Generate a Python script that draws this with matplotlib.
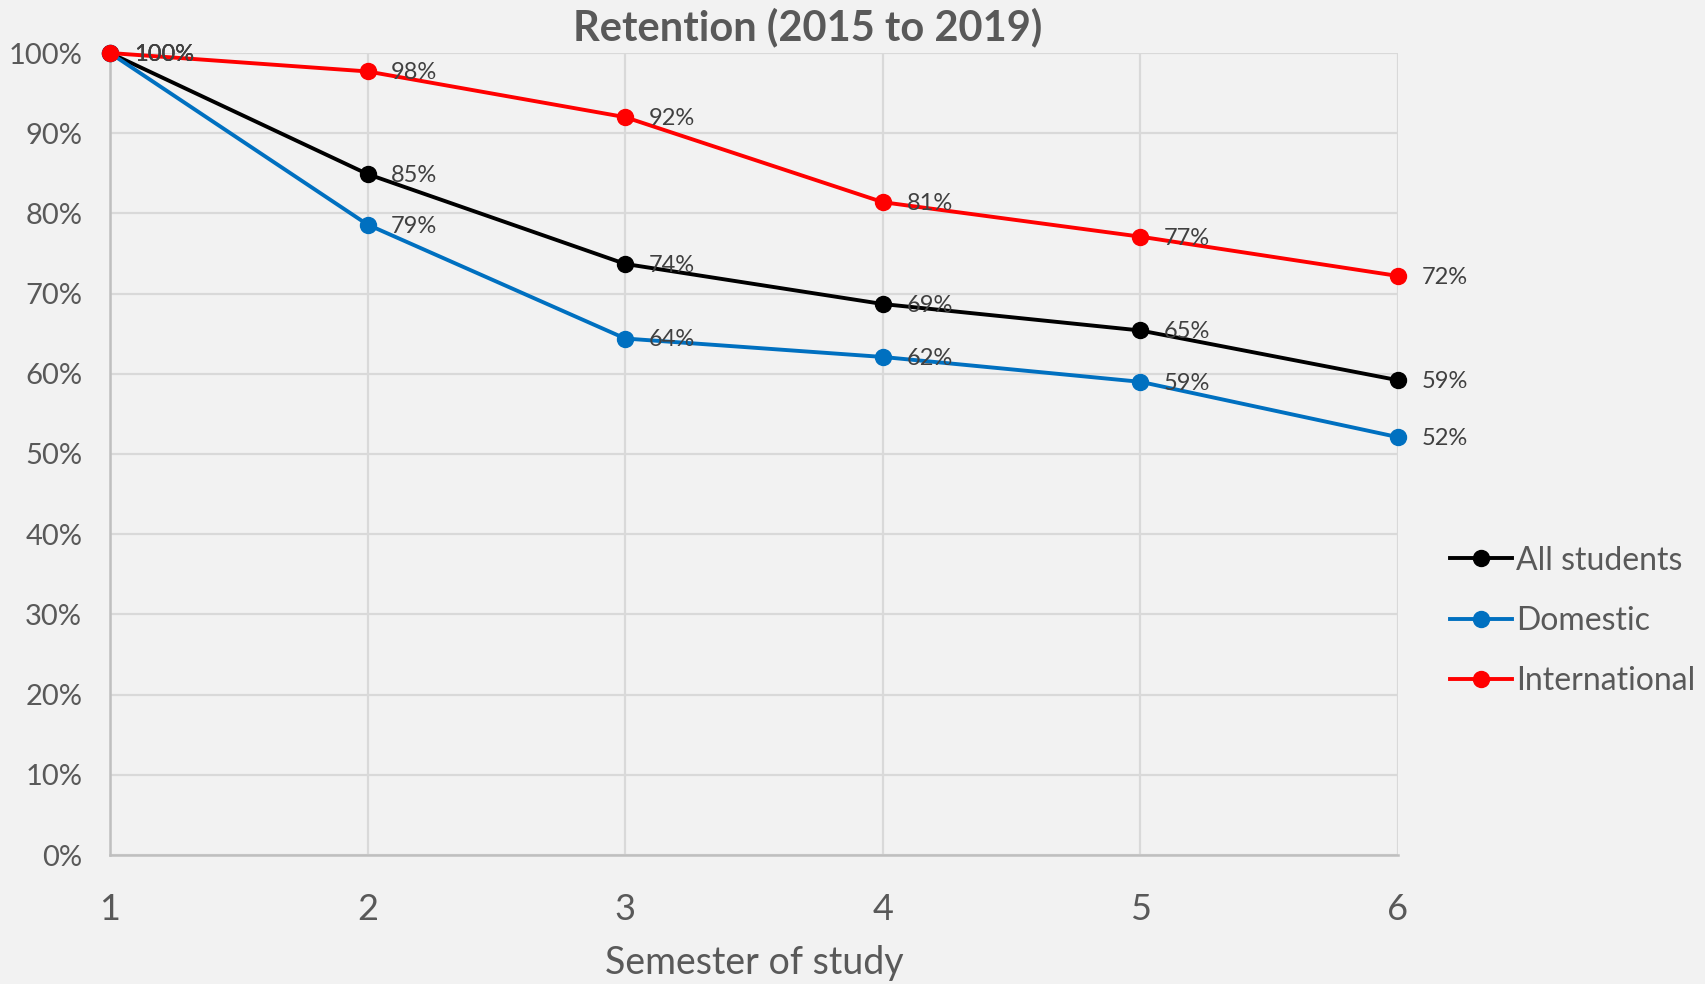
import matplotlib
matplotlib.use("Agg")
import matplotlib.pyplot as plt
from matplotlib.ticker import PercentFormatter, MultipleLocator

plt.rcParams['font.family'] = ['Lato', 'DejaVu Sans']

semesters = [1, 2, 3, 4, 5, 6]
all_students = [1.00, 0.849, 0.737, 0.687, 0.654, 0.592]
domestic = [1.00, 0.786, 0.644, 0.621, 0.590, 0.521]
international = [1.00, 0.977, 0.920, 0.814, 0.771, 0.722]
series_names = ["All students", "Domestic", "International"]
series_colors = ["#000000", "#0070C0", "#FF0000"]
title = "Retention (2015 to 2019)"
xlabel = "Semester of study"

bg = "#F2F2F2"
txt = "#595959"

fig = plt.figure(figsize=(17.06, 9.84), dpi=100, facecolor=bg)
ax = fig.add_axes([110/1706, 1-855/984, (1398-110)/1706, (855-53)/984])
ax.set_facecolor(bg)

for vals, name, col in zip([all_students, domestic, international], series_names, series_colors):
    ax.plot(semesters, vals, color=col, lw=2.8, marker='o', markersize=11.5,
            label=name, clip_on=False, zorder=3)
    for x, v in zip(semesters, vals):
        ax.annotate(f"{round(v*100):.0f}%", (x, v), xytext=(17, -1), textcoords='offset points',
                    ha='left', va='center', fontsize=17, color="#404040", zorder=4,
                    annotation_clip=False)

ax.set_xlim(1, 6)
ax.set_ylim(0, 1)
ax.yaxis.set_major_locator(MultipleLocator(0.1))
ax.yaxis.set_major_formatter(PercentFormatter(1.0, decimals=0))
ax.set_xticks(semesters)
ax.grid(True, color="#D9D9D9", lw=1.6, zorder=0)
ax.set_axisbelow(True)
for s in ['top', 'right']:
    ax.spines[s].set_visible(False)
for s in ['left', 'bottom']:
    ax.spines[s].set_color("#BFBFBF")
    ax.spines[s].set_linewidth(1.8)
ax.tick_params(axis='y', length=0, pad=20, labelsize=21, labelcolor=txt)
ax.tick_params(axis='x', length=0, pad=27, labelsize=26, labelcolor=txt)
ax.set_xlabel(xlabel, fontsize=27, color=txt, labelpad=14)

fig.text(808/1706, 1-27/984, title, ha='center', va='center', fontsize=30,
         fontweight='bold', color=txt)

leg = ax.legend(loc='center left', bbox_to_anchor=(1450/1706, 1-621/984),
                bbox_transform=fig.transFigure, frameon=False, fontsize=23,
                handlelength=1.95, handletextpad=0.12, labelspacing=0.95,
                borderpad=0, borderaxespad=0)
for t in leg.get_texts():
    t.set_color(txt)

fig.savefig("out.png", dpi=100, facecolor=bg)
